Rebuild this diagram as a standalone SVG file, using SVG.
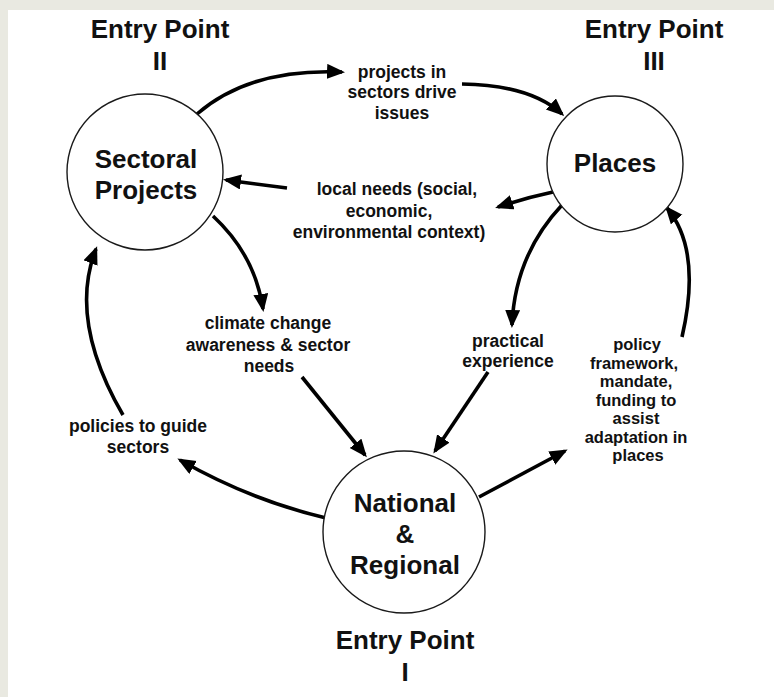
<svg xmlns="http://www.w3.org/2000/svg" width="774" height="697" viewBox="0 0 774 697">
  <defs>
    <style>
      .node { fill: #ffffff; stroke: #1a1a1a; stroke-width: 1.4; }
      .big { font-family: "Liberation Sans", Arial, sans-serif; font-weight: bold; font-size: 26px; fill: #111111; text-anchor: middle; }
      .lbl { font-family: "Liberation Sans", Arial, sans-serif; font-weight: bold; font-size: 17.5px; fill: #111111; text-anchor: middle; }
      .lbl.tight { font-size: 16.5px; }
      .conn { fill: none; stroke: #000000; stroke-width: 3.6; marker-end: url(#arrow); }
    </style>
    <marker id="arrow" markerUnits="userSpaceOnUse" markerWidth="20" markerHeight="16" refX="15" refY="7.5" orient="auto">
      <path d="M0,0 L18,7.5 L0,15 z" fill="#000000"/>
    </marker>
  </defs>

  <!-- page -->
  <rect x="0" y="0" width="774" height="697" fill="#e9e9e1"/>
  <rect x="8" y="10" width="766" height="687" fill="#ffffff"/>

  <!-- connectors -->
  <g id="connectors">
    <path class="conn" d="M197,114 Q250,68 342,72"/>
    <path class="conn" d="M462,84 Q530,85 562,114"/>
    <path class="conn" d="M553,192 Q525,198 498,207"/>
    <path class="conn" d="M287,188 Q255,184 226,180"/>
    <path class="conn" d="M213,216 Q255,255 263,309"/>
    <path class="conn" d="M302,377 L365,455"/>
    <path class="conn" d="M562,205 Q515,255 512,325"/>
    <path class="conn" d="M488,372 L435,451"/>
    <path class="conn" d="M326,518 Q250,500 180,460"/>
    <path class="conn" d="M123,415 Q68,320 96,249"/>
    <path class="conn" d="M479,497 L565,451"/>
    <path class="conn" d="M682,337 Q702,250 667,208"/>
  </g>

  <!-- edge labels -->
  <g id="edge-labels">
    <text class="lbl"><tspan x="402" y="78">projects in</tspan><tspan x="402" y="98">sectors drive</tspan><tspan x="402" y="119">issues</tspan></text>
    <text class="lbl"><tspan x="397" y="195">local needs (social,</tspan><tspan x="389" y="217">economic,</tspan><tspan x="389" y="238">environmental context)</tspan></text>
    <text class="lbl"><tspan x="268" y="329">climate change</tspan><tspan x="268" y="351">awareness &amp; sector</tspan><tspan x="269" y="372">needs</tspan></text>
    <text class="lbl"><tspan x="508" y="347">practical</tspan><tspan x="508" y="367">experience</tspan></text>
    <text class="lbl tight"><tspan x="637" y="350">policy</tspan><tspan x="634" y="368.5">framework,</tspan><tspan x="636" y="387">mandate,</tspan><tspan x="636" y="405.5">funding to</tspan><tspan x="636" y="424">assist</tspan><tspan x="636" y="442.5">adaptation in</tspan><tspan x="638" y="461">places</tspan></text>
    <text class="lbl"><tspan x="138" y="432">policies to guide</tspan><tspan x="138" y="453">sectors</tspan></text>
  </g>

  <!-- nodes -->
  <g id="node-sectoral">
    <circle class="node" cx="145" cy="172" r="78"/>
    <text class="big"><tspan x="146" y="168">Sectoral</tspan><tspan x="146" y="199">Projects</tspan></text>
  </g>
  <g id="node-places">
    <circle class="node" cx="615" cy="164" r="68"/>
    <text class="big" x="615" y="172">Places</text>
  </g>
  <g id="node-national">
    <circle class="node" cx="404" cy="532" r="81"/>
    <text class="big"><tspan x="405" y="512">National</tspan><tspan x="405" y="543">&amp;</tspan><tspan x="405" y="574">Regional</tspan></text>
  </g>

  <!-- entry point captions -->
  <g id="entry-2">
    <text class="big"><tspan x="160" y="38">Entry Point</tspan><tspan x="160" y="70">II</tspan></text>
  </g>
  <g id="entry-3">
    <text class="big"><tspan x="654" y="38">Entry Point</tspan><tspan x="654" y="70">III</tspan></text>
  </g>
  <g id="entry-1">
    <text class="big"><tspan x="405" y="649">Entry Point</tspan><tspan x="405" y="681">I</tspan></text>
  </g>
</svg>
